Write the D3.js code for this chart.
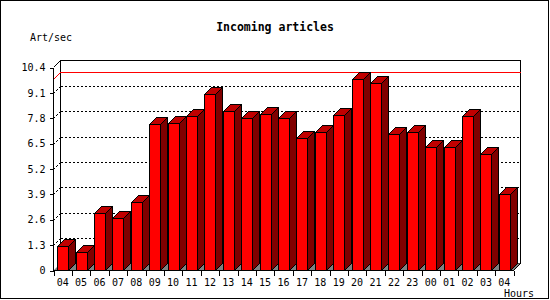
<!DOCTYPE html>
<html>
<head>
<meta charset="utf-8">
<script src="https://cdn.jsdelivr.net/npm/d3@7.9.0/dist/d3.min.js"></script>
<style>
  body { margin: 0; background: #fff; }
  svg text { font-family: "DejaVu Sans Mono", "Liberation Mono", monospace; }
</style>
</head>
<body>
<svg id="chart" width="550" height="300"></svg>
<script>
const hours = ['04', '05', '06', '07', '08', '09', '10', '11', '12', '13', '14', '15', '16',
  '17', '18', '19', '20', '21', '22', '23', '00', '01', '02', '03', '04'];
const artPerSec = [1.25, 0.96, 2.95, 2.70, 3.50, 7.51, 7.57, 7.92, 9.05, 8.18, 7.82, 8.03, 7.82,
  6.80, 7.10, 7.98, 9.82, 9.61, 7.00, 7.10, 6.34, 6.34, 7.92, 5.98, 3.93];
const yTicks = [0, 1.3, 2.6, 3.9, 5.2, 6.5, 7.8, 9.1, 10.4];

const title = 'Incoming articles';
const yLabel = 'Art/sec';
const xLabel = 'Hours';

const svg = d3.select('#chart');
const depth = 7;
const plotLeft = 53.5, plotRight = 513.5, plotBottom = 270.5, plotTop = 67.5;

const x = d3.scaleBand()
  .domain(d3.range(hours.length))
  .range([plotLeft, plotRight])
  .paddingInner(0.4)
  .paddingOuter(0.2);
const step = x.step();

const y = d3.scaleLinear().domain([0, 10.4]).range([plotBottom, plotTop]);

// outer frame
svg.append('rect')
  .attr('x', 0.5).attr('y', 0.5).attr('width', 548).attr('height', 298)
  .attr('fill', 'white').attr('stroke', 'black').attr('shape-rendering', 'crispEdges');

svg.append('text')
  .attr('x', 275).attr('y', 31)
  .attr('text-anchor', 'middle')
  .attr('font-size', 11.5).attr('font-weight', 'bold')
  .text(title);

svg.append('text')
  .attr('x', 30).attr('y', 41)
  .attr('font-size', 10)
  .text(yLabel);

// back wall
svg.append('rect')
  .attr('x', plotLeft + depth).attr('y', y(10.4) - depth)
  .attr('width', plotRight - plotLeft).attr('height', y(0) - y(10.4))
  .attr('fill', 'white').attr('stroke', 'black').attr('shape-rendering', 'crispEdges');

// grid lines on back wall + side wall
const grid = svg.append('g').attr('stroke', 'black').attr('stroke-dasharray', '2,2')
  .attr('shape-rendering', 'crispEdges');
yTicks.filter(v => v > 0 && v < 10.4).forEach(v => {
  const gy = Math.round(y(v)) + 0.5;
  grid.append('line')
    .attr('x1', plotLeft + depth).attr('x2', plotRight + depth)
    .attr('y1', gy - depth).attr('y2', gy - depth);
  grid.append('line')
    .attr('x1', plotLeft).attr('x2', plotLeft + depth)
    .attr('y1', gy).attr('y2', gy - depth);
});

// floor
svg.append('polygon')
  .attr('points', [[plotLeft, plotBottom], [plotLeft + depth, plotBottom - depth],
    [plotRight + depth, plotBottom - depth], [plotRight, plotBottom]].join(' '))
  .attr('fill', '#808080');

// max line
const maxV = d3.max(artPerSec);
const my = Math.round(y(maxV)) + 0.5;
svg.append('polyline')
  .attr('points', [[plotLeft, my], [plotLeft + depth, my - depth], [plotRight + depth, my - depth]].join(' '))
  .attr('fill', 'none').attr('stroke', 'red').attr('shape-rendering', 'crispEdges');

// bars
const bars = svg.append('g').attr('stroke', 'black').attr('stroke-linejoin', 'miter')
  .attr('shape-rendering', 'crispEdges');
const bw = x.bandwidth();
artPerSec.forEach((v, i) => {
  const x0 = Math.round(x(i)) + 0.5, x1 = Math.round(x(i) + bw) + 0.5;
  const yt = Math.round(y(v)) + 0.5, yb = plotBottom;
  bars.append('polygon')
    .attr('points', [[x1, yb], [x1 + depth, yb - depth], [x1 + depth, yt - depth], [x1, yt]].join(' '))
    .attr('fill', '#800000');
  bars.append('polygon')
    .attr('points', [[x0, yt], [x0 + depth, yt - depth], [x1 + depth, yt - depth], [x1, yt]].join(' '))
    .attr('fill', '#c00000');
  bars.append('rect')
    .attr('x', x0).attr('y', yt).attr('width', x1 - x0).attr('height', yb - yt)
    .attr('fill', 'red');
});

// left axis
const yAxis = svg.append('g')
  .attr('transform', `translate(${plotLeft},0)`)
  .call(d3.axisLeft(y).tickValues(yTicks).tickSize(4).tickPadding(4)
    .tickFormat(v => v === 0 ? '0' : d3.format('.1f')(v)));
yAxis.select('.domain').attr('d', `M0,${y(10.4)}V${plotBottom}`);
yAxis.selectAll('line, path').attr('shape-rendering', 'crispEdges');
yAxis.selectAll('text').attr('font-family', null).attr('font-size', 10);
yAxis.append('line')
  .attr('x1', 0).attr('y1', y(10.4)).attr('x2', depth).attr('y2', y(10.4) - depth)
  .attr('stroke', 'black').attr('shape-rendering', 'crispEdges');

// bottom axis
const xAxis = svg.append('g')
  .attr('transform', `translate(0,${plotBottom})`)
  .call(d3.axisBottom(x).tickSize(0).tickPadding(8).tickFormat(i => hours[i]));
xAxis.select('.domain').attr('d', `M${plotLeft},0H${plotRight}`).attr('shape-rendering', 'crispEdges');
xAxis.selectAll('text').attr('font-family', null).attr('font-size', 10);
d3.range(hours.length + 1).forEach(i => {
  const tx = Math.round(plotLeft + i * step) + 0.5;
  xAxis.append('line').attr('x1', tx).attr('x2', tx).attr('y1', 0).attr('y2', 5)
    .attr('stroke', 'black').attr('shape-rendering', 'crispEdges');
});
xAxis.append('line')
  .attr('x1', plotRight).attr('y1', 0).attr('x2', plotRight + depth).attr('y2', -depth)
  .attr('stroke', 'black').attr('shape-rendering', 'crispEdges');

svg.append('text')
  .attr('x', 534).attr('y', 297)
  .attr('text-anchor', 'end')
  .attr('font-size', 10)
  .text(xLabel);
</script>
</body>
</html>
